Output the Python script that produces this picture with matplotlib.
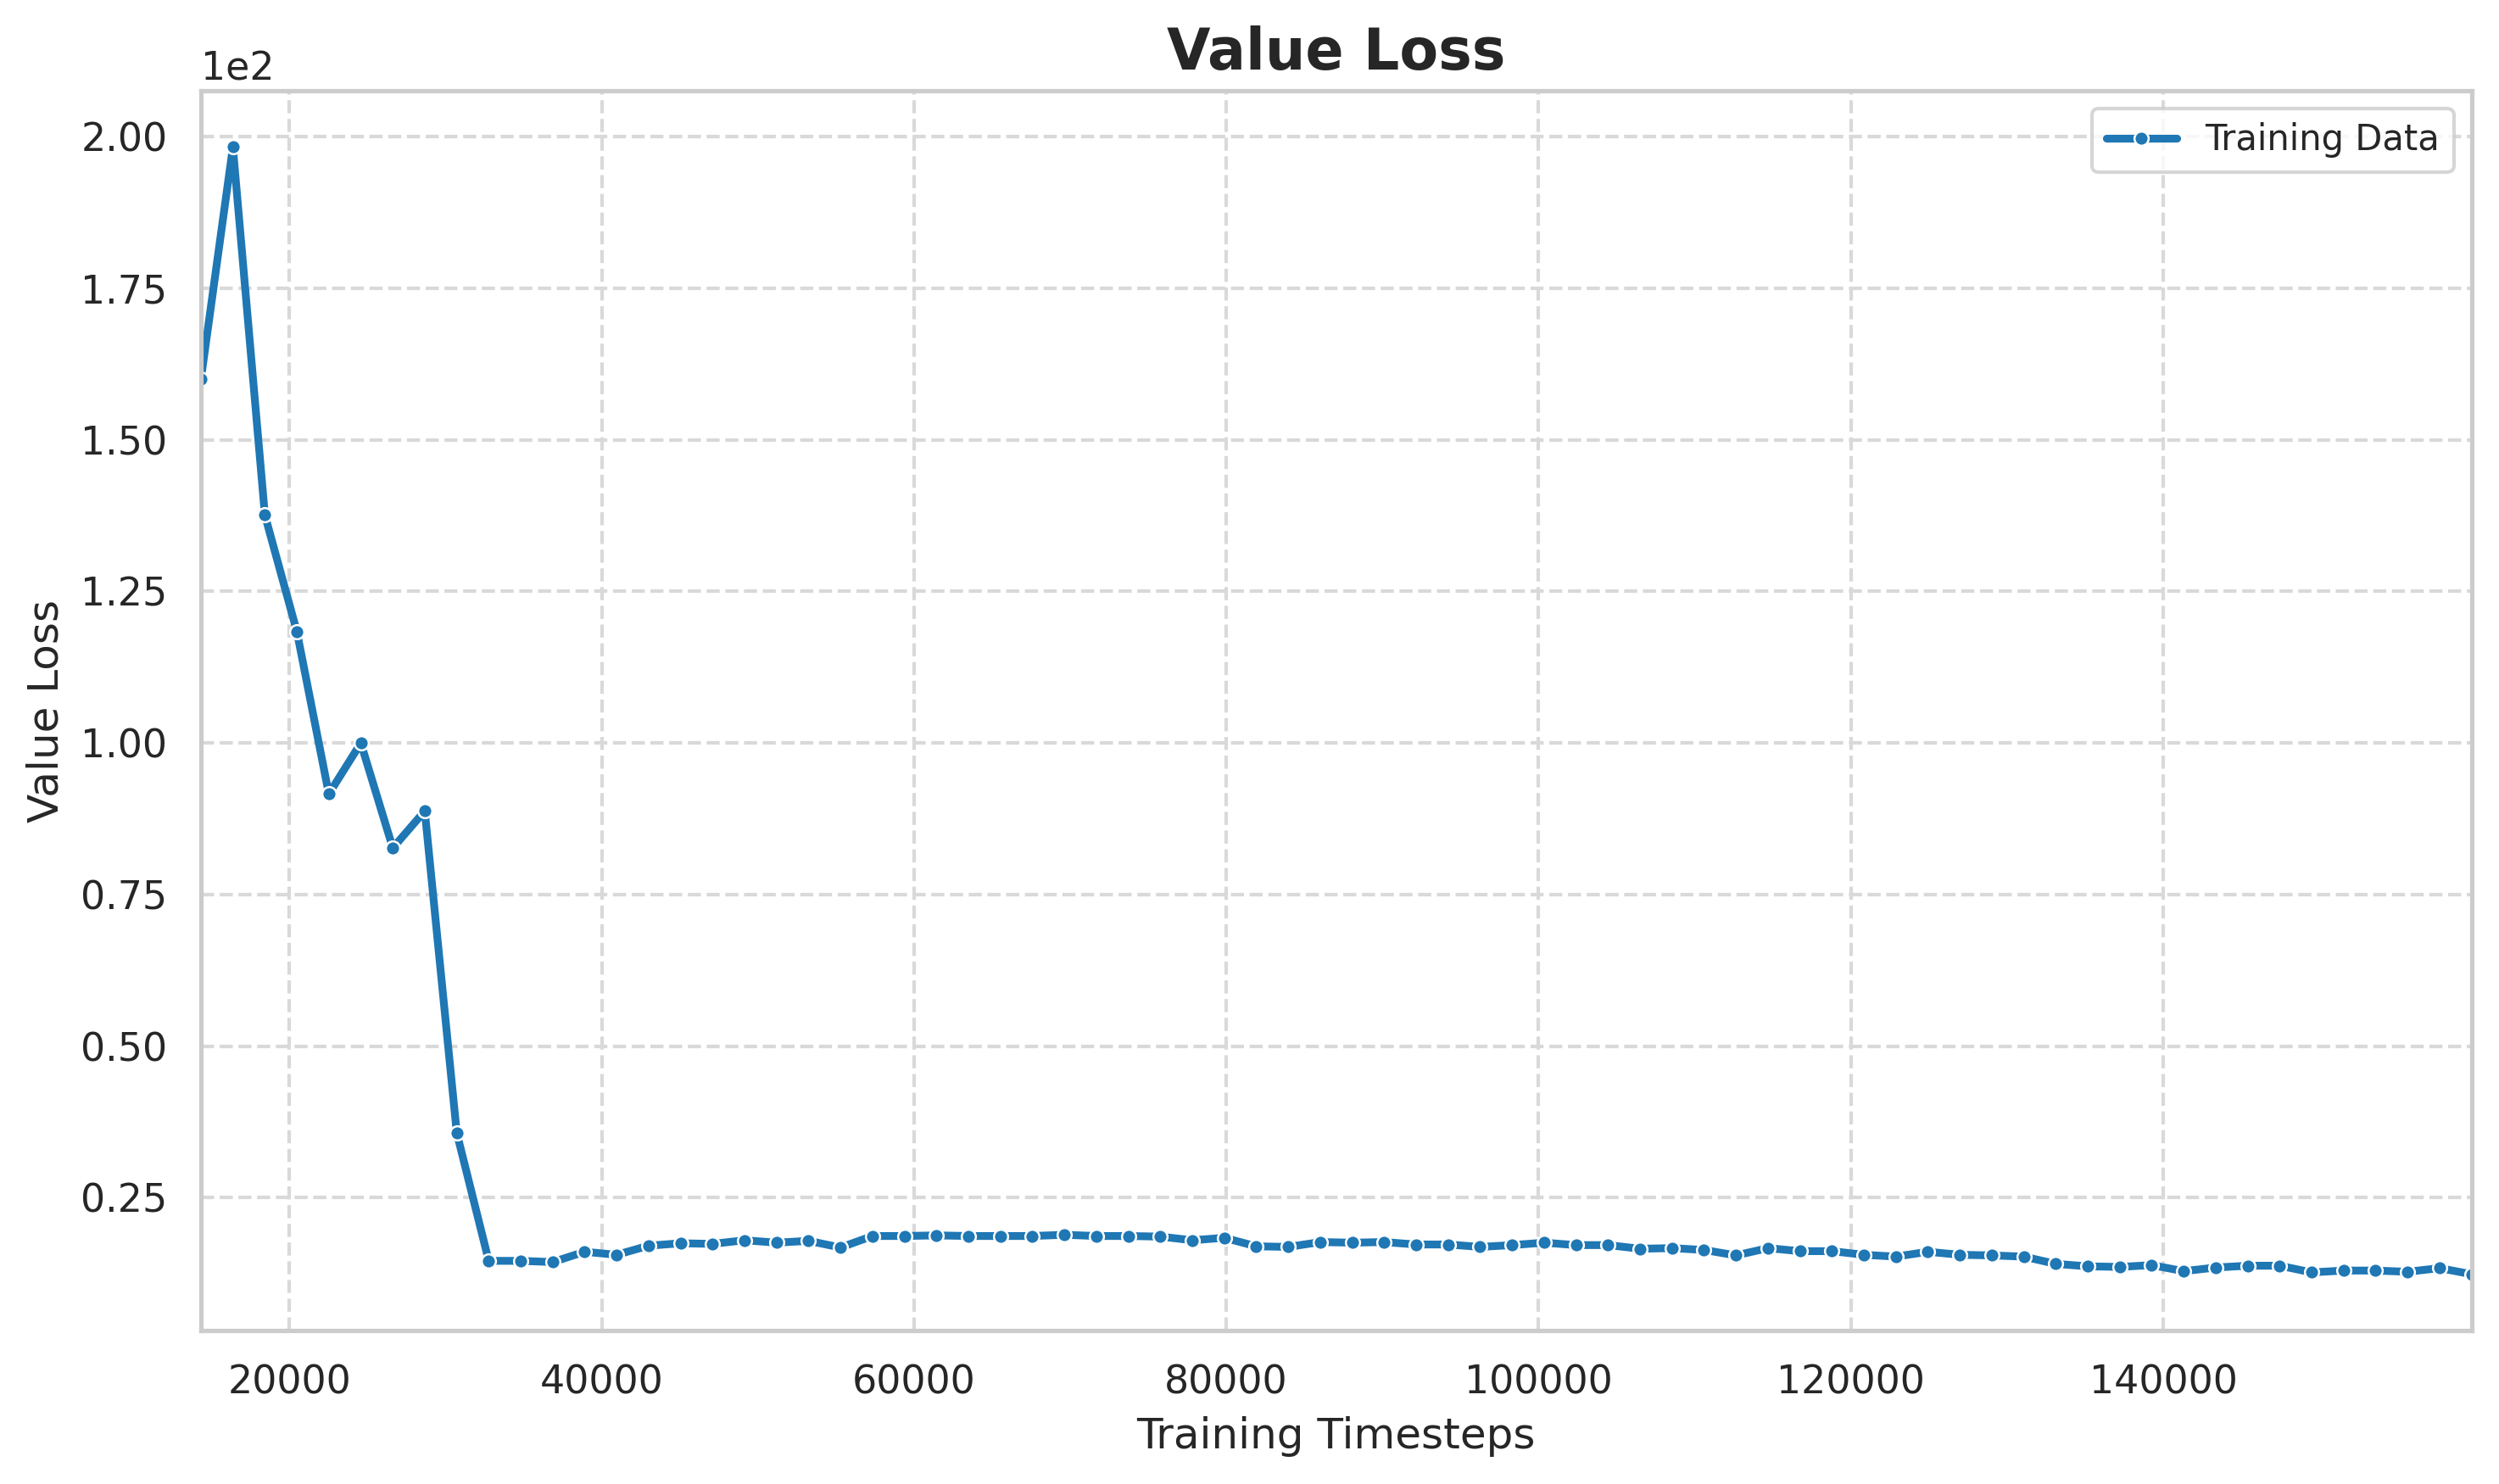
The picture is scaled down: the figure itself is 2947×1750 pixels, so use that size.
import numpy as np
import matplotlib
matplotlib.use("Agg")
import matplotlib.pyplot as plt
import seaborn as sns

# Data
timesteps = [14336 + 2048 * k for k in range(72)]
value_loss = [
    160.0, 198.3, 137.6, 118.4, 91.6, 100.0, 82.7, 88.8, 35.7, 14.6,
    14.6, 14.4, 16.1, 15.6, 17.1, 17.5, 17.4, 18.0, 17.6, 17.9,
    16.8, 18.7, 18.7, 18.8, 18.7, 18.7, 18.7, 18.9, 18.7, 18.7,
    18.6, 18.0, 18.4, 17.0, 16.9, 17.7, 17.6, 17.7, 17.3, 17.3,
    16.9, 17.2, 17.6, 17.2, 17.2, 16.6, 16.7, 16.4, 15.5, 16.7,
    16.2, 16.2, 15.6, 15.3, 16.1, 15.6, 15.5, 15.3, 14.1, 13.7,
    13.6, 13.9, 12.9, 13.5, 13.8, 13.8, 12.7, 13.0, 13.0, 12.8,
    13.4, 12.4,
]

sns.set_theme(style="whitegrid", context="notebook")
plt.rcParams['font.family'] = ['DejaVu Sans']

fig, ax = plt.subplots(figsize=(2947/300, 1750/300), dpi=300)
fig.subplots_adjust(left=0.0804, right=0.989, top=0.9389, bottom=0.1034)

ax.plot(timesteps, value_loss, color="#1f77b4", linewidth=2.2, marker="o",
        markersize=4, markeredgecolor="white", markeredgewidth=0.6,
        label="Training Data")

ax.set_xlim(min(timesteps), max(timesteps))
ax.ticklabel_format(axis="y", style="sci", scilimits=(0, 0))
ax.grid(True, linestyle="--", color="#d9d9d9", linewidth=1.0)
ax.set_title("Value Loss", fontsize=16, fontweight="bold")
ax.set_xlabel("Training Timesteps", fontsize=12)
ax.set_ylabel("Value Loss", fontsize=12)
ax.legend(loc="upper right", fontsize=10)

fig.savefig("out.png", dpi=300)
